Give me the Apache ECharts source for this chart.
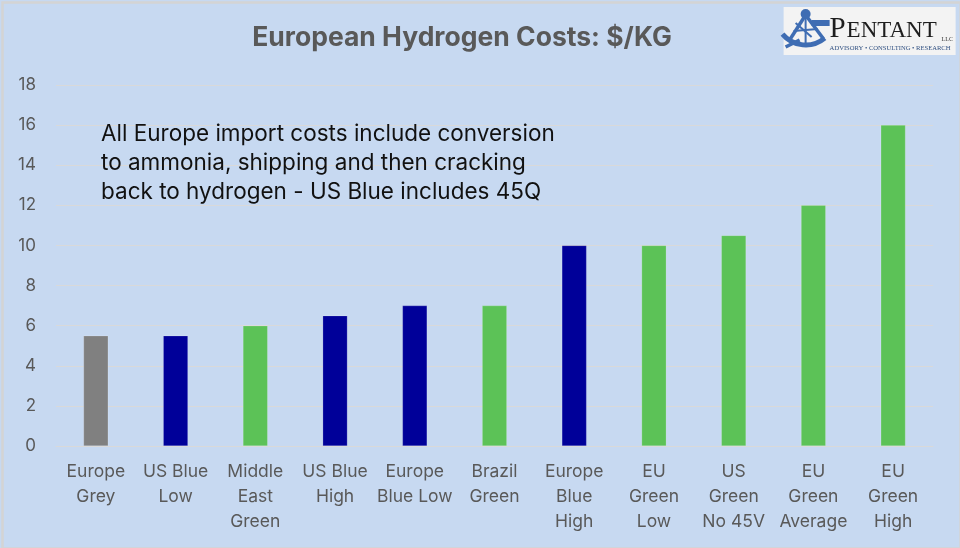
<!DOCTYPE html>
<html><head><meta charset="utf-8">
<script src="https://cdn.jsdelivr.net/npm/echarts@6/dist/echarts.min.js"></script>
<style>html,body{margin:0;padding:0;background:#fff}#c{width:960px;height:548px}</style>
</head><body><div id="c"></div>
<script>
// ---- data ----
const categories = ['Europe\nGrey','US Blue\nLow','Middle\nEast\nGreen','US Blue\nHigh','Europe\nBlue Low','Brazil\nGreen','Europe\nBlue\nHigh','EU\nGreen\nLow','US\nGreen\nNo 45V','EU\nGreen\nAverage','EU\nGreen\nHigh'];
const costs = [5.5, 5.5, 6, 6.5, 7, 7, 10, 10, 10.5, 12, 16];
const barTypes = ['grey','blue','green','blue','blue','green','blue','green','green','green','green'];
const yMin = 0, yMax = 18, yStep = 2;
const titleText = 'European Hydrogen Costs: $/KG';
const noteLines = ['All Europe import costs include conversion','to ammonia, shipping and then cracking','back to hydrogen - US Blue includes 45Q'];

// ---- styles ----
const typeColors = { grey: '#808080', blue: '#000099', green: '#5CC257' };
const FONT = 'Inter, "Open Sans", sans-serif';

const chart = echarts.init(document.getElementById('c'), null, { renderer: 'canvas' });
const seriesData = costs.map((v, i) => ({ value: v, itemStyle: { color: typeColors[barTypes[i]] } }));

const iconColor = '#3F6DB3';
chart.setOption({
  backgroundColor: '#C7D9F1',
  animation: false,
  title: {
    text: titleText, left: 457, top: 20, textAlign: 'center',
    textStyle: { fontFamily: FONT, fontSize: 26.5, fontWeight: 'bold', color: '#595959' }
  },
  grid: { left: 56, right: 27, top: 85, bottom: 102, containLabel: false },
  xAxis: {
    type: 'category', data: categories,
    axisLine: { show: true, lineStyle: { color: '#D9D9D9', width: 1 } },
    axisTick: { show: false },
    axisLabel: { interval: 0, margin: 13, fontFamily: FONT, fontSize: 17.5, lineHeight: 25, color: '#595959' }
  },
  yAxis: {
    type: 'value', min: yMin, max: yMax, interval: yStep,
    axisLine: { show: false }, axisTick: { show: false },
    splitLine: { lineStyle: { color: '#D9D9D9', width: 1 } },
    axisLabel: { margin: 20, fontFamily: FONT, fontSize: 17, color: '#595959' }
  },
  series: [{
    type: 'bar', data: seriesData, barWidth: '31%',
    itemStyle: { borderColor: 'rgba(255,255,255,0.35)', borderWidth: 0.5 }
  }],
  graphic: [
    { type: 'rect', left: 0, top: 0, z: 100, silent: true,
      shape: { x: 1, y: 1, width: 958, height: 546 },
      style: { fill: 'none', stroke: '#D4D4D4', lineWidth: 2.5 } },
    { type: 'text', left: 101, top: 120, z: 10,
      style: { text: noteLines.join('\n'), fontFamily: FONT, fontSize: 22.5, lineHeight: 29, fill: '#111111' } },
    // logo
    { type: 'group', left: 780, top: 7, z: 20, children: [
      { type: 'rect', shape: { x: 0, y: 0, width: 172, height: 48 }, style: { fill: '#F3F3F3' } },
      // sextant icon
      { type: 'arc', shape: { cx: 22, cy: 8, r: 30, startAngle: Math.PI * 0.28, endAngle: Math.PI * 0.78 },
        style: { stroke: iconColor, lineWidth: 5, fill: 'none' } },
      { type: 'line', shape: { x1: 22, y1: 8, x2: 6, y2: 33 }, style: { stroke: iconColor, lineWidth: 3.5 } },
      { type: 'line', shape: { x1: 22, y1: 8, x2: 40, y2: 32 }, style: { stroke: iconColor, lineWidth: 3.5 } },
      { type: 'line', shape: { x1: 22, y1: 8, x2: 22, y2: 38 }, style: { stroke: iconColor, lineWidth: 2 } },
      { type: 'line', shape: { x1: 10, y1: 24, x2: 34, y2: 22 }, style: { stroke: iconColor, lineWidth: 2 } },
      { type: 'line', shape: { x1: 12, y1: 16, x2: 28, y2: 30 }, style: { stroke: iconColor, lineWidth: 2 } },
      { type: 'circle', shape: { cx: 22, cy: 7, r: 5 }, style: { fill: iconColor } },
      { type: 'rect', shape: { x: 28, y: 13, width: 18, height: 6 }, style: { fill: iconColor } },
      { type: 'line', shape: { x1: 2, y1: 40, x2: 16, y2: 33 }, style: { stroke: iconColor, lineWidth: 3.5 } },
      { type: 'text', style: { x: 46, y: 8, text: 'P', fontFamily: '"Liberation Serif", serif', fontSize: 29, fill: '#1E1E1E' } },
      { type: 'text', style: { x: 63, y: 12, text: 'ENTANT', fontFamily: '"Liberation Serif", serif', fontSize: 23, fill: '#1E1E1E' } },
      { type: 'text', style: { x: 158, y: 29, text: 'LLC', fontFamily: '"Liberation Serif", serif', fontSize: 6, fill: '#333333' } },
      { type: 'text', style: { x: 46, y: 38, text: 'ADVISORY • CONSULTING • RESEARCH', fontFamily: '"Liberation Serif", serif', fontSize: 6.6, fill: '#2F4F80' } }
    ]}
  ]
});
</script>
</body></html>
